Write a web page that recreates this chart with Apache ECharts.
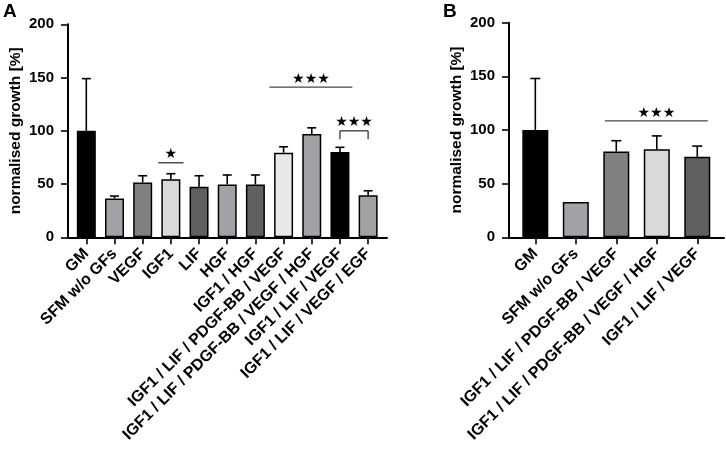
<!DOCTYPE html>
<html>
<head>
<meta charset="utf-8">
<script src="https://cdn.jsdelivr.net/npm/echarts@6/dist/echarts.min.js"></script>
<style>
html, body { margin: 0; padding: 0; background: #fff; }
#chart { width: 726px; height: 453px; }
</style>
</head>
<body>
<div id="chart"></div>
<script>
// panel A
var catsA = ['GM', 'SFM w/o GFs', 'VEGF', 'IGF1', 'LIF', 'HGF', 'IGF1 / HGF',
    'IGF1 / LIF / PDGF-BB / VEGF', 'IGF1 / LIF / PDGF-BB / VEGF / HGF',
    'IGF1 / LIF / VEGF', 'IGF1 / LIF / VEGF / EGF'];
var meanA = [100, 36.5, 51.5, 54.5, 47.5, 49.6, 49.6, 79.5, 97, 80.2, 39.5];
var sdA = [49, 2.2, 6.3, 5.2, 10.3, 8.9, 8.9, 5.5, 5.8, 4.3, 4.2];
var colorA = ['#000000', '#a2a2a6', '#808080', '#d9d9d9', '#606060', '#a2a2a6',
    '#606060', '#e8e8e8', '#a2a2a6', '#000000', '#a2a2a6'];
// significance: [from, to, height, bracket drop]
var sigA = [[2.55, 3.45, 70, 0], [6.5, 9.44, 141, 0], [9, 10, 100, 8]];
var starsA = ['★', '★★★', '★★★'];

// panel B
var catsB = ['GM', 'SFM w/o GFs', 'IGF1 / LIF / PDGF-BB / VEGF',
    'IGF1 / LIF / PDGF-BB / VEGF / HGF', 'IGF1 / LIF / VEGF'];
var meanB = [100, 33, 80, 82, 75];
var sdB = [48, 0, 10, 12.5, 10];
var colorB = ['#000000', '#a2a2a6', '#808080', '#d9d9d9', '#606060'];
var sigB = [[1.72, 4.26, 108.5, 0]];
var starsB = ['★★★'];

var FONT = '"Liberation Sans", Arial, sans-serif';

function barData(mean, colors) {
    return mean.map(function (v, i) {
        return { value: [i, v], itemStyle: { color: colors[i] } };
    });
}
function errData(mean, sd) {
    return mean.map(function (v, i) { return [i, v, sd[i]]; });
}
function errItem(halfCap) {
    return function (params, api) {
        var x = api.value(0), m = api.value(1), s = api.value(2);
        if (!s) return;
        var p0 = api.coord([x, m]), p1 = api.coord([x, m + s]);
        var st = { stroke: '#000', lineWidth: 1.6 };
        return {
            type: 'group',
            children: [
                { type: 'line', shape: { x1: p0[0], y1: p0[1], x2: p1[0], y2: p1[1] }, style: st },
                { type: 'line', shape: { x1: p1[0] - halfCap, y1: p1[1], x2: p1[0] + halfCap, y2: p1[1] }, style: st }
            ]
        };
    };
}
function sigItem(stars) {
    return function (params, api) {
        var y = api.value(2), drop = api.value(3);
        var a = api.coord([api.value(0), y]), b = api.coord([api.value(1), y]);
        var st = { stroke: '#444', lineWidth: 1.4 };
        var ch = [{ type: 'line', shape: { x1: a[0], y1: a[1], x2: b[0], y2: b[1] }, style: st }];
        if (drop) {
            var d = api.coord([api.value(0), y - drop]);
            ch.push({ type: 'line', shape: { x1: a[0], y1: a[1], x2: a[0], y2: d[1] }, style: st });
            ch.push({ type: 'line', shape: { x1: b[0], y1: b[1], x2: b[0], y2: d[1] }, style: st });
        }
        ch.push({
            type: 'text',
            style: {
                text: stars[params.dataIndex], x: (a[0] + b[0]) / 2, y: a[1] - 1,
                align: 'center', verticalAlign: 'bottom', fill: '#000',
                font: '14px "DejaVu Sans", sans-serif'
            }
        });
        return { type: 'group', children: ch };
    };
}
function xAxis(idx, cats, max) {
    var vals = cats.map(function (c, i) { return i; });
    return {
        type: 'value', gridIndex: idx, min: -0.65, max: max,
        splitLine: { show: false },
        axisLine: { show: true, onZero: false, lineStyle: { color: '#000', width: 2 } },
        axisTick: { show: true, customValues: vals, length: 7, lineStyle: { color: '#000', width: 1.6 } },
        axisLabel: {
            customValues: vals, rotate: 45, margin: 14, color: '#000',
            fontFamily: FONT, fontWeight: 'bold', fontSize: 16,
            formatter: function (v) { return cats[Math.round(v)]; }
        }
    };
}
function yAxis(idx) {
    return {
        type: 'value', gridIndex: idx, min: 0, max: 200, interval: 50,
        name: 'normalised growth [%]', nameLocation: 'middle', nameGap: 44,
        nameTextStyle: { color: '#000', fontFamily: FONT, fontWeight: 'bold', fontSize: 15.5 },
        splitLine: { show: false },
        axisLine: { show: true, onZero: false, lineStyle: { color: '#000', width: 2 } },
        axisTick: { show: true, length: 7, lineStyle: { color: '#000', width: 1.6 } },
        axisLabel: { color: '#000', fontFamily: FONT, fontWeight: 'bold', fontSize: 15, margin: 14 }
    };
}

var chart = echarts.init(document.getElementById('chart'));
chart.setOption({
    animation: false,
    title: [
        { text: 'A', left: 3, top: 2, padding: 0, textStyle: { fontFamily: FONT, fontWeight: 'bold', fontSize: 19, color: '#000' } },
        { text: 'B', left: 443, top: 2, padding: 0, textStyle: { fontFamily: FONT, fontWeight: 'bold', fontSize: 19, color: '#000' } }
    ],
    grid: [
        { left: 68, right: 339, top: 24.3, bottom: 215.7 },
        { left: 509, right: 2, top: 22.7, bottom: 215.7 }
    ],
    xAxis: [xAxis(0, catsA, 10.67), xAxis(1, catsB, 4.66)],
    yAxis: [yAxis(0), yAxis(1)],
    series: [
        {
            type: 'bar', xAxisIndex: 0, yAxisIndex: 0, barWidth: 19,
            itemStyle: { borderColor: '#000', borderWidth: 1.5 },
            data: barData(meanA, colorA)
        },
        { type: 'custom', xAxisIndex: 0, yAxisIndex: 0, z: 5, renderItem: errItem(4.5), data: errData(meanA, sdA) },
        { type: 'custom', xAxisIndex: 0, yAxisIndex: 0, z: 5, renderItem: sigItem(starsA), encode: { x: [0, 1], y: 2 }, data: sigA },
        {
            type: 'bar', xAxisIndex: 1, yAxisIndex: 1, barWidth: 26,
            itemStyle: { borderColor: '#000', borderWidth: 1.5 },
            data: barData(meanB, colorB)
        },
        { type: 'custom', xAxisIndex: 1, yAxisIndex: 1, z: 5, renderItem: errItem(5), data: errData(meanB, sdB) },
        { type: 'custom', xAxisIndex: 1, yAxisIndex: 1, z: 5, renderItem: sigItem(starsB), encode: { x: [0, 1], y: 2 }, data: sigB }
    ]
});
</script>
</body>
</html>
